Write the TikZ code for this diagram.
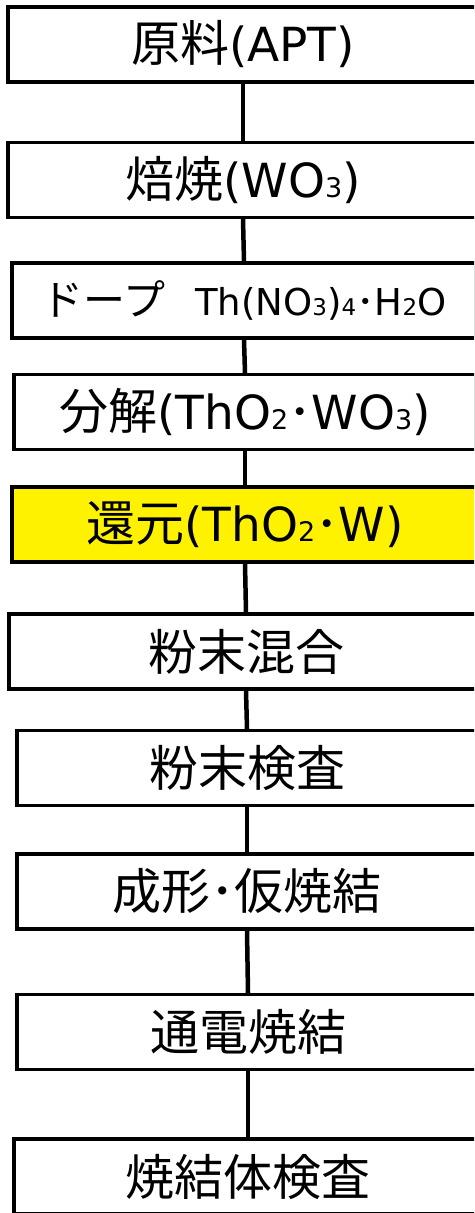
\documentclass[tikz,border=0pt]{standalone}
\usepackage{fontspec}
\setmainfont{DejaVu Sans}
\newfontfamily\jp{Noto Sans CJK JP}
\newcommand\J[1]{{\jp\fontsize{49}{52}\selectfont #1}}
\newcommand\Jd{{\jp ･}}
\newcommand\sbs[1]{{\fontsize{27}{27}\selectfont #1}}
\newcommand\sbt[1]{{\fontsize{23}{23}\selectfont #1}}
\begin{document}
\begin{tikzpicture}[x=1pt,y=-1pt,
  box/.style={draw, line width=3.2pt, rectangle, inner sep=0pt,
    minimum height=75pt, fill=white, font=\fontsize{47}{50}\selectfont},
  hl/.style={fill=yellow},
  conn/.style={line width=4.5pt}]
\useasboundingbox (0,0) rectangle (474,1213);
\clip (0,0) rectangle (474,1213);
\node[box, minimum width=470pt] (b1) at (243,44.5) {\J{原料}(APT)};
\node[box, minimum width=470pt] (b2) at (243,180) {\J{焙焼}(WO\sbs{3})};
\node[box, minimum width=464pt] (b3) at (244,300.5) {{\jp\fontsize{42}{45}\selectfont ドープ}\hspace{30pt}{\fontsize{37}{40}\selectfont Th(NO\sbt{3})\sbt{4}\Jd H\sbt{2}O}};
\node[box, minimum width=462pt] (b4) at (245,412) {\J{分解}(ThO\sbs{2}\Jd WO\sbs{3})};
\node[box, hl, minimum width=466pt] (b5) at (245,524.5) {\J{還元}(ThO\sbs{2}\Jd W)};
\node[box, minimum width=474pt] (b6) at (246,651.5) {\J{粉末混合}};
\node[box, minimum width=460pt] (b7) at (247,768) {\J{粉末検査}};
\node[box, minimum width=460pt] (b8) at (247,891.5) {\J{成形\Jd 仮焼結}};
\node[box, minimum width=462pt] (b9) at (248,1032) {\J{通電焼結}};
\node[box, minimum width=468pt] (b10) at (248,1176.5) {\J{焼結体検査}};
\draw[conn] (b1.south) -- (b2.north);
\draw[conn] (b2.south) -- (b3.north);
\draw[conn] (b3.south) -- (b4.north);
\draw[conn] (b4.south) -- (b5.north);
\draw[conn] (b5.south) -- (b6.north);
\draw[conn] (b6.south) -- (b7.north);
\draw[conn] (b7.south) -- (b8.north);
\draw[conn] (b8.south) -- (b9.north);
\draw[conn] (b9.south) -- (b10.north);
\end{tikzpicture}
\end{document}
